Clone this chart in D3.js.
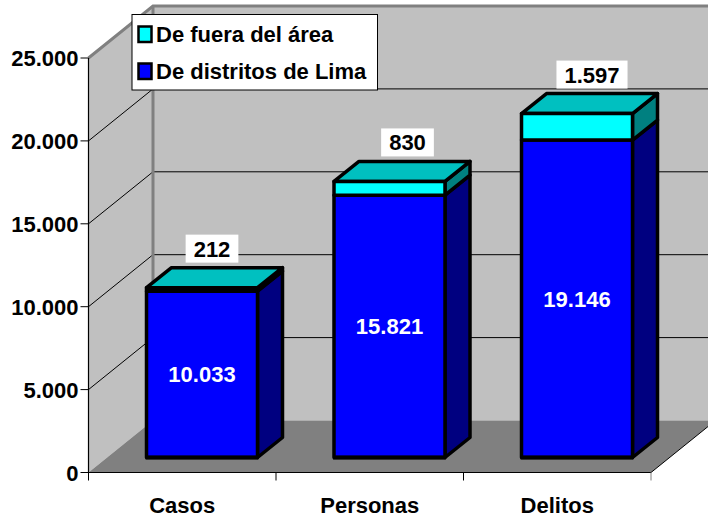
<!DOCTYPE html>
<html>
<head>
<meta charset="utf-8">
<script src="https://cdn.jsdelivr.net/npm/d3@7"></script>
<style>
body { margin: 0; background: #fff; }
text { font-family: "Liberation Sans", Arial, sans-serif; font-weight: bold; fill: #000; }
</style>
</head>
<body>
<div id="chart"></div>
<script>
const categories = ["Casos", "Personas", "Delitos"];
const lima = [10033, 15821, 19146];
const fuera = [212, 830, 1597];
const yTicks = [0, 5000, 10000, 15000, 20000, 25000];
const legendLabels = ["De fuera del área", "De distritos de Lima"];

const width = 708, height = 518;
const left = 88.5, right = 651, top25 = 58, bottom0 = 472.5;
const depthX = 64.5, depthY = 52;   // full depth of the 3d box
const barDepthX = 25, barDepthY = 20;
const labelNudge = { Casos: 10, Personas: 18, Delitos: 15 }; // top labels sit off centre in the original

const svg = d3.select("#chart").append("svg")
    .attr("width", width)
    .attr("height", height)
    .style("display", "block");

const xScale = d3.scaleBand().domain(categories).range([left, right]).paddingInner(0.408).paddingOuter(0.204);
const yScale = d3.scaleLinear().domain([0, 25000]).range([bottom0, top25]);
const fmt = v => d3.format(",")(v).replace(/,/g, ".");

const poly = pts => pts.map(p => p.join(",")).join(" ");

// back wall
svg.append("polygon")
    .attr("points", poly([[left + depthX, top25 - depthY], [right + depthX, top25 - depthY], [right + depthX, bottom0 - depthY], [left + depthX, bottom0 - depthY]]))
    .attr("fill", "#c0c0c0");
// side wall
svg.append("polygon")
    .attr("points", poly([[left, top25], [left + depthX, top25 - depthY], [left + depthX, bottom0 - depthY], [left, bottom0]]))
    .attr("fill", "#c0c0c0");
// floor
svg.append("polygon")
    .attr("points", poly([[left, bottom0], [left + depthX, bottom0 - depthY], [right + depthX, bottom0 - depthY], [right, bottom0]]))
    .attr("fill", "#808080");

// grid lines
yTicks.slice(1, -1).forEach(t => {
    svg.append("path")
        .attr("d", `M${left},${yScale(t)}L${left + depthX},${yScale(t) - depthY}L${right + depthX},${yScale(t) - depthY}`)
        .attr("fill", "none")
        .attr("stroke", "#000")
        .attr("stroke-width", 1);
});

// gray wall edges
svg.append("path")
    .attr("d", `M${left},${top25}L${left + depthX},${top25 - depthY}L${right + depthX},${top25 - depthY}`)
    .attr("fill", "none").attr("stroke", "#808080").attr("stroke-width", 3);
svg.append("path")
    .attr("d", `M${left + depthX},${top25 - depthY}V${bottom0 - depthY}`)
    .attr("fill", "none").attr("stroke", "#808080").attr("stroke-width", 3);
svg.append("path")
    .attr("d", `M${right},${bottom0}L${right + depthX},${bottom0 - depthY}`)
    .attr("fill", "none").attr("stroke", "#000").attr("stroke-width", 1);

// axes
svg.append("path")
    .attr("d", `M${left},${top25}V${bottom0}H${right}`)
    .attr("fill", "none").attr("stroke", "#000").attr("stroke-width", 1.2);

yTicks.forEach(t => {
    svg.append("line")
        .attr("x1", left - 8).attr("x2", left)
        .attr("y1", yScale(t)).attr("y2", yScale(t))
        .attr("stroke", "#000").attr("stroke-width", 1);
    svg.append("text")
        .attr("x", left - 10)
        .attr("y", yScale(t) + 8)
        .attr("text-anchor", "end")
        .style("font-size", "22px")
        .text(fmt(t));
});

d3.range(4).forEach(i => {
    const x = left + (right - left) * i / 3;
    svg.append("line")
        .attr("x1", x).attr("x2", x)
        .attr("y1", bottom0).attr("y2", bottom0 + 8)
        .attr("stroke", i === 3 ? "#808080" : "#000").attr("stroke-width", 1);
});

categories.forEach(c => {
    svg.append("text")
        .attr("x", xScale(c) + xScale.bandwidth() / 2)
        .attr("y", 513)
        .attr("text-anchor", "middle")
        .style("font-size", "22px")
        .text(c);
});

// bars, pushed into the middle of the depth
const offX = (depthX - barDepthX) / 2, offY = (depthY - barDepthY) / 2 - 1;

function box(x, y0, y1, front, side, topFill) {
    const w = xScale.bandwidth();
    const g = svg.append("g")
        .attr("stroke", "#000")
        .attr("stroke-width", 3.5)
        .attr("stroke-linejoin", "round");
    g.append("polygon")
        .attr("points", poly([[x + w, y1], [x + w + barDepthX, y1 - barDepthY], [x + w + barDepthX, y0 - barDepthY], [x + w, y0]]))
        .attr("fill", side);
    if (topFill) {
        g.append("polygon")
            .attr("points", poly([[x, y1], [x + barDepthX, y1 - barDepthY], [x + w + barDepthX, y1 - barDepthY], [x + w, y1]]))
            .attr("fill", topFill);
    }
    g.append("rect")
        .attr("x", x).attr("y", y1)
        .attr("width", w).attr("height", y0 - y1)
        .attr("fill", front);
}

categories.forEach((c, i) => {
    const x = xScale(c) + offX;
    const yBase = yScale(0) - offY;
    const yMid = yScale(lima[i]) - offY;
    const yTop = yScale(lima[i] + fuera[i]) - offY;
    box(x, yBase, yMid, "#0000ff", "#000080", null);
    box(x, yMid, yTop, "#00ffff", "#008080", "#00c0c0");

    // thicker base line
    svg.append("line")
        .attr("x1", x - 1).attr("x2", x + xScale.bandwidth() + 1)
        .attr("y1", yBase).attr("y2", yBase)
        .attr("stroke", "#000").attr("stroke-width", 4);

    svg.append("text")
        .attr("x", x + xScale.bandwidth() / 2)
        .attr("y", (yBase + yMid) / 2 + 8)
        .attr("text-anchor", "middle")
        .style("font-size", "22px")
        .style("fill", "#fff")
        .text(fmt(lima[i]));

    // top label on a white box
    const lx = x + xScale.bandwidth() / 2 + labelNudge[c];
    const ly = yTop - barDepthY - 19;
    const label = svg.append("text")
        .attr("x", lx)
        .attr("y", ly + 8)
        .attr("text-anchor", "middle")
        .style("font-size", "22px")
        .text(fmt(fuera[i]));
    const bb = label.node().getBBox();
    svg.insert("rect", () => label.node())
        .attr("x", lx - bb.width / 2 - 8)
        .attr("y", ly - 14)
        .attr("width", bb.width + 16)
        .attr("height", 28)
        .attr("fill", "#fff");
});

// legend
svg.append("rect")
    .attr("x", 132).attr("y", 14.5)
    .attr("width", 245.5).attr("height", 75.5)
    .attr("fill", "#fff").attr("stroke", "#000").attr("stroke-width", 1);
const swatches = ["#00ffff", "#0000ff"];
legendLabels.forEach((l, i) => {
    const y = 34.5 + i * 37;
    svg.append("rect")
        .attr("x", 138.5).attr("y", y - 8)
        .attr("width", 13).attr("height", 15.5)
        .attr("fill", swatches[i])
        .attr("stroke", "#000").attr("stroke-width", 2.5);
    svg.append("text")
        .attr("x", 156)
        .attr("y", y + 7)
        .style("font-size", "22px")
        .text(l);
});
</script>
</body>
</html>
